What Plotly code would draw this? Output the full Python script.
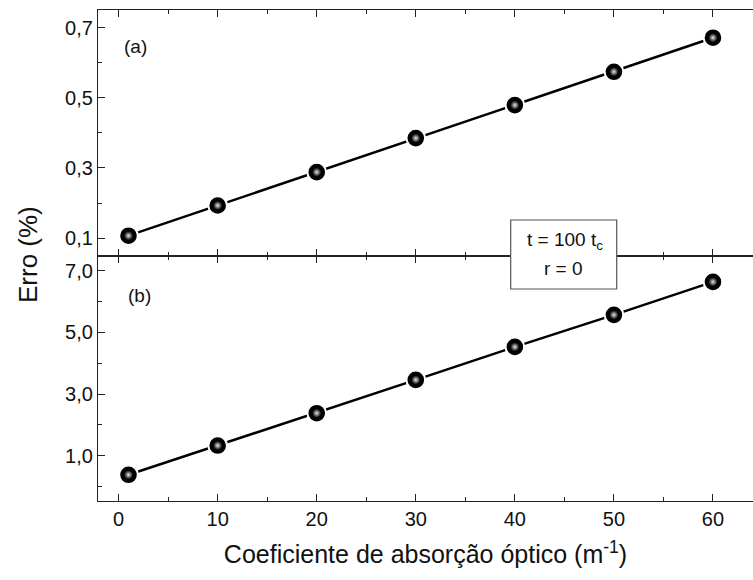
import plotly.graph_objects as go
from plotly.subplots import make_subplots

# Data
x_vals = [1, 10, 20, 30, 40, 50, 60]
err_a = [0.107, 0.193, 0.288, 0.385, 0.479, 0.574, 0.671]
err_b = [0.38, 1.33, 2.38, 3.46, 4.53, 5.57, 6.64]
x_ticks = [0, 10, 20, 30, 40, 50, 60]

FONT = "Liberation Sans, Arial, sans-serif"
TXT = "#111111"
AX = "#222222"

fig = make_subplots(rows=2, cols=1, shared_xaxes=True, vertical_spacing=0)

for row, yv in ((1, err_a), (2, err_b)):
    fig.add_trace(go.Scatter(
        x=x_vals, y=yv, mode="lines+markers",
        line=dict(color="black", width=2.5),
        marker=dict(size=18.6, color="black", line=dict(color="white", width=2)),
        showlegend=False, hoverinfo="skip"), row=row, col=1)
    fig.add_trace(go.Scatter(
        x=x_vals, y=yv, mode="markers",
        marker=dict(size=9, color="black",
                    gradient=dict(type="radial", color="#e8e8e8"),
                    line=dict(width=0)),
        showlegend=False, hoverinfo="skip"), row=row, col=1)

xcommon = dict(range=[-2.08, 64.04], showline=True, linecolor=AX, linewidth=1.3,
               mirror="ticks", ticks="inside", ticklen=7, tickwidth=1.3, tickcolor=AX,
               tickvals=x_ticks, showgrid=False, zeroline=False,
               minor=dict(ticks="inside", ticklen=4, tickwidth=1.2, tickcolor=AX, dtick=5, tick0=0, showgrid=False),
               tickfont=dict(family=FONT, size=20, color=TXT))
fig.update_xaxes(**xcommon)
fig.update_xaxes(showticklabels=False, row=1, col=1)
fig.update_xaxes(row=2, col=1,
                 title=dict(text="Coeficiente de absorção óptico (m<sup>-1</sup>)",
                            font=dict(family=FONT, size=25, color=TXT), standoff=16))

ycommon = dict(showline=True, linecolor=AX, linewidth=1.3, mirror=False,
               ticks="inside", ticklen=7, tickwidth=1.3, tickcolor=AX,
               showgrid=False, zeroline=False, tickformat=".1f",
               tickfont=dict(family=FONT, size=20, color=TXT))
fig.update_yaxes(**ycommon)
fig.update_yaxes(row=1, col=1, range=[0.05, 0.75], tick0=0.1, dtick=0.2, domain=[0.4996, 1],
                 minor=dict(ticks="inside", ticklen=4, tickwidth=1.2, tickcolor=AX, tick0=0.1, dtick=0.1, showgrid=False))
fig.update_yaxes(row=2, col=1, range=[-0.47, 7.49], tick0=1, dtick=2, domain=[0, 0.4996],
                 minor=dict(ticks="inside", ticklen=4, tickwidth=1.2, tickcolor=AX, tick0=0, dtick=1, showgrid=False))

W, H = 753, 580
L, R, T, B = 98, 0, 10, 79
pw, ph = W - L - R, H - T - B

def px(xp):
    return (xp - L) / pw

def py(yp):
    return (H - B - yp) / ph

# Info box
fig.add_shape(type="rect", xref="paper", yref="paper",
              x0=px(510.7), x1=px(616.7), y0=py(289), y1=py(220),
              line=dict(color="#555555", width=1.2), fillcolor="white", layer="above")

annots = [
    dict(text="t = 100 t<sub>c</sub>", x=px(565), y=py(241)),
    dict(text="r = 0", x=px(563.5), y=py(268)),
    dict(text="(a)", x=px(135), y=py(46.7)),
    dict(text="(b)", x=px(139), y=py(295)),
]
for a in annots:
    fig.add_annotation(xref="paper", yref="paper", showarrow=False,
                       xanchor="center", yanchor="middle",
                       font=dict(family=FONT, size=19, color=TXT), **a)

fig.add_annotation(xref="paper", yref="paper", x=px(28), y=py(255), textangle=-90,
                   text="Erro (%)", showarrow=False, xanchor="center", yanchor="middle",
                   font=dict(family=FONT, size=26, color=TXT))

fig.update_layout(width=W, height=H, margin=dict(l=L, r=R, t=T, b=B),
                  paper_bgcolor="white", plot_bgcolor="white",
                  separators=",.", showlegend=False)

fig.write_html("out.html")
